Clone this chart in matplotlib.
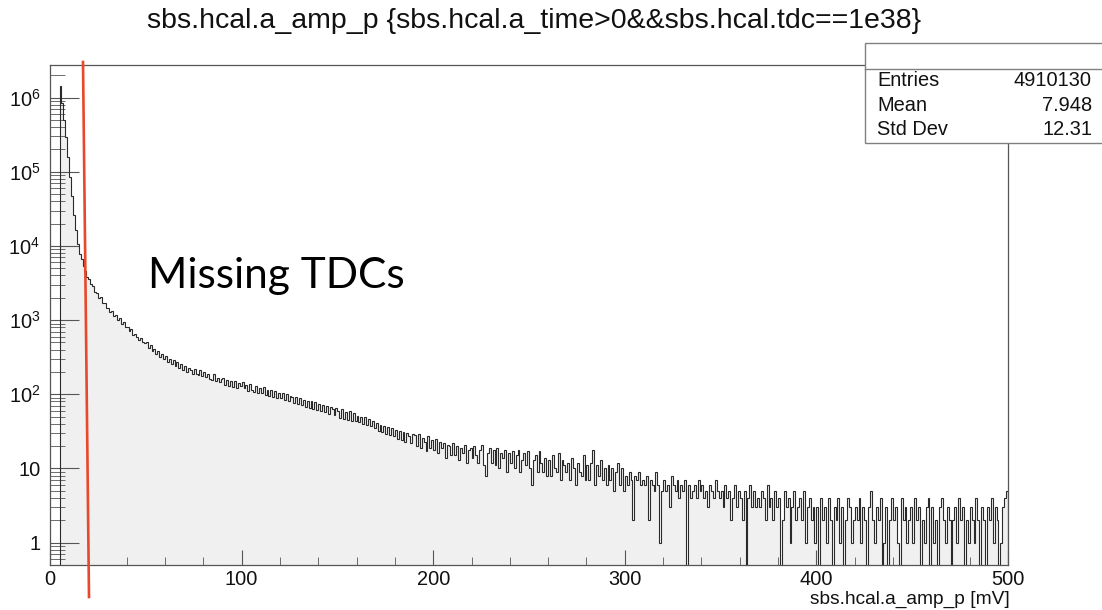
import numpy as np
import matplotlib
matplotlib.use("Agg")
import matplotlib.pyplot as plt
from matplotlib.lines import Line2D
from matplotlib.patches import Rectangle
from matplotlib.ticker import MultipleLocator, LogLocator, FuncFormatter, NullFormatter

plt.rcParams['font.family'] = ['Liberation Sans', 'DejaVu Sans']
plt.rcParams['mathtext.fontset'] = 'custom'
plt.rcParams['mathtext.rm'] = 'Liberation Sans'

# 1 mV bins, first filled bin starts at 5 mV
bin_start = 5
bin_stop = 500
counts = [
    1440000, 850000, 500000, 290000, 160000,                     # 5-9
    85000, 47000, 26500, 16500, 10600, 7900, 6700, 5300, 4600, 3800,  # 10-19
    3550, 3050, 2900, 2400, 2350, 1980, 2050, 1700, 1690, 1450,
    1470, 1290, 1330, 1120, 1170, 990, 1060, 890, 940, 800,
    820, 710, 760, 640, 650, 590, 545, 580, 500, 490,
    500, 420, 455, 385, 410, 350, 385, 320, 350, 300,
    330, 275, 300, 255, 290, 240, 270, 225, 255, 215,
    240, 200, 225, 215, 185, 220, 190, 180, 210, 175,
    200, 170, 188, 160, 155, 185, 150, 165, 145, 160,
    165, 135, 155, 130, 150, 125, 150, 122, 140, 128,
    148, 120, 132, 112, 138, 116, 108, 130, 105, 122,             # 100-109
    104, 124, 98, 116, 94, 114, 92, 110, 90, 104,
    88, 104, 84, 100, 80, 96, 92, 76, 92, 74,
    88, 72, 84, 68, 82, 66, 80, 64, 78, 62,
    74, 60, 72, 57, 70, 54, 68, 64, 52, 66,
    60, 48, 63, 46, 58, 45, 59, 44, 56, 43,
    51, 42, 49, 40, 50, 38, 46, 37, 44, 35,
    41, 32, 39, 31, 37, 29, 36, 28, 35, 27,
    33, 25, 32, 24, 31, 23, 30, 27, 22, 29,
    28, 20, 29, 19, 26, 23, 17, 27, 19, 24,
    18, 25, 16, 23, 19, 22, 14, 21, 20, 15,                       # 200-209
    22, 15, 20, 13, 19, 16, 21, 12, 18, 19,
    14, 20, 15, 12, 18, 21, 11, 8, 16, 19,
    12, 18, 11, 19, 10, 16, 14, 18, 9, 16,
    12, 17, 10, 15, 18, 9, 13, 16, 11, 17,
    10, 6, 13, 15, 9, 17, 12, 9, 14, 8,
    13, 8, 15, 10, 9, 16, 7, 13, 11, 9,
    12, 7, 14, 10, 6, 12, 9, 8, 15, 7,
    11, 7, 12, 18, 6, 11, 8, 13, 7, 10,
    6, 11, 7, 10, 5, 9, 12, 6, 10, 5,
    8, 6, 9, 7, 2, 8, 7, 9, 6, 7,                                 # 300-309
    6, 8, 2, 7, 6, 5, 9, 6, 1, 5,
    7, 5, 6, 3, 8, 6, 5, 7, 4, 6,
    5, 7, 0, 6, 4, 5, 6, 4, 7, 5,
    6, 4, 5, 3, 6, 5, 4, 7, 5, 4,
    5, 3, 6, 4, 5, 2, 4, 6, 3, 5,
    4, 2, 5, 0, 4, 6, 3, 5, 3, 4,
    3, 5, 4, 2, 6, 3, 4, 2, 5, 3,
    4, 0, 2, 5, 3, 4, 1, 3, 5, 2,
    3, 4, 2, 5, 1, 3, 4, 2, 3, 1,
    3, 0, 4, 2, 3, 1, 4, 2, 0, 3,                                 # 400-409
    2, 4, 1, 3, 0, 2, 4, 3, 1, 2,
    3, 2, 4, 1, 3, 2, 0, 3, 5, 2,
    1, 3, 2, 4, 0, 1, 3, 0, 2, 4,
    2, 3, 1, 0, 4, 2, 3, 1, 2, 3,
    1, 4, 2, 3, 0, 2, 1, 3, 4, 0,
    3, 1, 2, 0, 3, 4, 2, 1, 3, 2,
    0, 2, 3, 1, 4, 2, 3, 0, 2, 1,
    3, 2, 1, 4, 2, 0, 3, 2, 0, 3,
    2, 4, 1, 3, 2, 0, 1, 3, 4, 5,
]
edges = np.arange(bin_start, bin_stop + 1)

title = "sbs.hcal.a_amp_p {sbs.hcal.a_time>0&&sbs.hcal.tdc==1e38}"
xlabel = "sbs.hcal.a_amp_p [mV]"
stats_names = ["Entries", "Mean", "Std Dev"]
stats_vals = ["4910130", "7.948", "12.31"]
note = "Missing TDCs"

W, H = 1102, 610
fig = plt.figure(figsize=(W / 100, H / 100), dpi=100, facecolor='white')

def fx(px):
    return px / W

def fy(py):
    return 1 - py / H

ax = fig.add_axes([fx(50), fy(565), fx(1008) - fx(50), fy(65) - fy(565)])
ax.stairs(counts, edges, baseline=1e-3, fill=True, color='#f0f0f0', zorder=1)
ax.stairs(counts, edges, baseline=1e-3, color='#2a2a2a', lw=0.8, zorder=2)

ax.set_yscale('log')
ax.set_xlim(0, 500)
ax.set_ylim(0.5, 2.75e6)

for s in ax.spines.values():
    s.set_color('#555555')
    s.set_linewidth(0.9)

ax.xaxis.set_major_locator(MultipleLocator(100))
ax.xaxis.set_minor_locator(MultipleLocator(20))
ax.yaxis.set_major_locator(LogLocator(base=10, numticks=20))
ax.yaxis.set_minor_locator(LogLocator(base=10, subs=np.arange(2, 10), numticks=20))
ax.yaxis.set_minor_formatter(NullFormatter())

def ylab(v, pos):
    if v < 0.9:
        return ''
    e = int(round(np.log10(v)))
    if e == 0:
        return '1'
    if e == 1:
        return '10'
    return r'$\mathregular{10^{%d}}$' % e

ax.yaxis.set_major_formatter(FuncFormatter(ylab))
ax.tick_params(axis='both', which='both', direction='in', top=False, right=False,
               color='#555555', labelsize=14.4, labelcolor='#111111')
ax.tick_params(axis='x', which='major', length=10.8, pad=3.5)
ax.tick_params(axis='x', which='minor', length=5.5)
ax.tick_params(axis='y', which='major', length=21, pad=7)
ax.tick_params(axis='y', which='minor', length=10.8)

fig.text(fx(534), fy(21), title, ha='center', va='center', fontsize=20.5, color='#111111')
fig.text(fx(1010), fy(604), xlabel, ha='right', va='baseline', fontsize=13.8, color='#111111')

# stats box
box = Rectangle((fx(865), fy(142.5)), fx(1110) - fx(865), fy(42.5) - fy(142.5),
                transform=fig.transFigure, facecolor='white', edgecolor='#808080',
                lw=1.0, zorder=5)
fig.add_artist(box)
fig.add_artist(Line2D([fx(865), fx(1110)], [fy(68.5), fy(68.5)], transform=fig.transFigure,
                      color='#808080', lw=1.0, zorder=6))
for i, (n, v) in enumerate(zip(stats_names, stats_vals)):
    yy = fy(81 + 24.3 * i)
    fig.text(fx(877), yy, n, ha='left', va='center', fontsize=14.4, color='#111111', zorder=7)
    fig.text(fx(1092), yy, v, ha='right', va='center', fontsize=14.4, color='#111111', zorder=7)

# annotation overlay
fig.add_artist(Line2D([fx(83), fx(89)], [fy(62), fy(597)], transform=fig.transFigure,
                      color='#e8482c', lw=1.9, zorder=8))
fig.text(fx(148), fy(288), note, ha='left', va='baseline', fontsize=30.5,
         family=['Lato', 'DejaVu Sans'], color='black')

fig.savefig('out.png', dpi=100, facecolor='white')
